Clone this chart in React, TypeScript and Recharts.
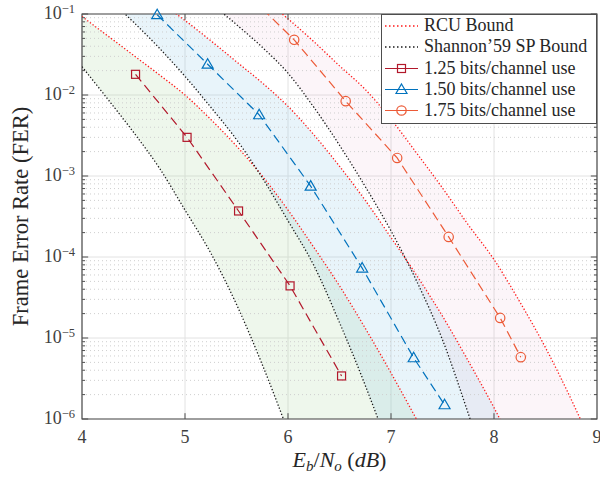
import React from 'react';
import {
  ComposedChart,
  XAxis,
  YAxis,
  Line,
  Area,
  CartesianGrid,
  ReferenceLine,
  ReferenceArea,
  ReferenceDot,
} from 'recharts';

// ---------- data ----------
const ebno = [4.0, 4.25, 4.5, 4.75, 5.0, 5.25, 5.5, 5.75, 6.0, 6.25, 6.5, 6.75, 7.0, 7.25, 7.5, 7.75, 8.0, 8.25, 8.5, 8.75, 9.0];

// Shannon'59 sphere-packing bounds
const sp125 = [2.24e-2, 8.9e-3, 3.47e-3, 1.26e-3, 3.8e-4, 1.12e-4, 2.6e-5, 4.7e-6, 7.1e-7, 1e-7, 1e-8, 1e-9, 1e-10, 1e-11, 1e-12, null, null, null, null, null, null];
const sp150 = [0.35, 0.158, 7.94e-2, 3.8e-2, 1.7e-2, 7.08e-3, 2.82e-3, 9.5e-4, 2.8e-4, 7.9e-5, 1.55e-5, 2.6e-6, 3.5e-7, 3e-8, 2e-9, 1e-10, 5e-12, 1e-13, null, null, null];
const sp175 = [null, null, null, null, 0.35, 0.141, 7.41e-2, 3.89e-2, 1.86e-2, 7.08e-3, 2.4e-3, 7.4e-4, 2.1e-4, 5.0e-5, 9.5e-6, 1.17e-6, 1.26e-7, 1e-8, 5e-10, 1e-11, 1e-13];

// RCU bounds
const rcu125 = [9.3e-2, 5.37e-2, 3.09e-2, 1.78e-2, 1.0e-2, 5.0e-3, 2.34e-3, 1.0e-3, 3.8e-4, 1.32e-4, 4.4e-5, 1.32e-5, 3.7e-6, 9.8e-7, 2.5e-7, null, null, null, null, null, null];
const rcu150 = [0.4, 0.28, 0.2, 0.141, 8.32e-2, 4.68e-2, 2.57e-2, 1.41e-2, 7.24e-3, 3.24e-3, 1.32e-3, 5.0e-4, 1.74e-4, 5.9e-5, 1.86e-5, 5.2e-6, 1.38e-6, 3.2e-7, null, null, null];
const rcu175 = [null, null, null, null, 0.8, 0.48, 0.28, 0.158, 8.71e-2, 4.57e-2, 2.29e-2, 1.17e-2, 5.01e-3, 1.91e-3, 7.1e-4, 2.5e-4, 9.3e-5, 2.8e-5, 7.6e-6, 1.74e-6, 3.5e-7];

// simulated codes
const r125x = [4.52, 5.02, 5.52, 6.02, 6.52];
const r125y = [1.8e-2, 3.0e-3, 3.7e-4, 4.4e-5, 3.4e-6];
const r150x = [4.73, 5.22, 5.72, 6.22, 6.72, 7.22, 7.52];
const r150y = [9.8e-2, 2.4e-2, 5.7e-3, 7.5e-4, 7.3e-5, 5.7e-6, 1.5e-6];
const r175x = [5.56, 6.06, 6.56, 7.06, 7.56, 8.06, 8.26];
const r175y = [0.2, 4.8e-2, 8.4e-3, 1.67e-3, 1.77e-4, 1.77e-5, 5.8e-6];

const xTicks = [4, 5, 6, 7, 8, 9];
const yTicks = [1e-6, 1e-5, 1e-4, 1e-3, 1e-2, 1e-1];
const minorMults = [2, 3, 4, 5, 6, 7, 8, 9];
const legendLabels = ['RCU Bound', 'Shannon\u201959 SP Bound', '1.25 bits/channel use', '1.50 bits/channel use', '1.75 bits/channel use'];

// ---------- styling ----------
const FONT = '"Liberation Serif", "Times New Roman", serif';
const TEXT = '#262626';
const AXIS = '#4d4d4d';
const C125 = '#B2182B';
const C150 = '#0072BD';
const C175 = '#EC5A37';
const RCU = '#ff1a1a';
const SP = '#1a1a1a';
const DOT = '1.3 2';
const DOTW = 1.3;
const DASH = '9 5';

const table = ebno.map((x, i) => ({
  x,
  sp125: sp125[i],
  sp150: sp150[i],
  sp175: sp175[i],
  rcu125: rcu125[i],
  rcu150: rcu150[i],
  rcu175: rcu175[i],
}));
const pts = (xs: number[], ys: number[]) => xs.map((x, i) => ({ x, y: ys[i] }));
const d125 = pts(r125x, r125y);
const d150 = pts(r150x, r150y);
const d175 = pts(r175x, r175y);

const band = (lo: string, hi: string) => (d: any) =>
  d[lo] != null && d[hi] != null ? [d[lo], d[hi]] : null;

const yMinor = yTicks.slice(0, -1).flatMap((d) => minorMults.map((m) => m * d));

// ---------- markers ----------
const Square = ({ cx, cy, color }: any) => (
  <rect x={cx - 4} y={cy - 4} width={8} height={8} fill="none" stroke={color} strokeWidth={1.2} />
);
const Tri = ({ cx, cy, color }: any) => (
  <polygon
    points={`${cx},${cy - 5.5} ${cx + 5.5},${cy + 4} ${cx - 5.5},${cy + 4}`}
    fill="none"
    stroke={color}
    strokeWidth={1.2}
  />
);
const Circ = ({ cx, cy, color }: any) => (
  <circle cx={cx} cy={cy} r={4.7} fill="none" stroke={color} strokeWidth={1.2} />
);

// ---------- ticks & labels ----------
const XTick = (props: any) => {
  const { x, y, payload } = props;
  return (
    <text x={x} y={y + 24} textAnchor="middle" fontFamily={FONT} fontSize={18} fill="#404040">
      {payload.value}
    </text>
  );
};
const YTick = (props: any) => {
  const { x, y, payload } = props;
  const exp = Math.round(Math.log10(payload.value));
  return (
    <text x={x - 7} y={y + 5} textAnchor="end" fontFamily={FONT} fontSize={18} fill="#404040">
      <tspan>10</tspan>
      <tspan dy={-6} fontSize={12.5}>{'\u2212' + Math.abs(exp)}</tspan>
    </text>
  );
};
const YLabel = (props: any) => {
  const vb = props.viewBox || { x: 0, y: 14, width: 82, height: 405 };
  const cy = vb.y + vb.height / 2;
  const cx = 28;
  return (
    <text
      x={cx}
      y={cy}
      transform={`rotate(-90, ${cx}, ${cy})`}
      textAnchor="middle"
      fontFamily={FONT}
      fontSize={22.5}
      fill={TEXT}
    >
      Frame Error Rate (FER)
    </text>
  );
};
const XLabel = (props: any) => {
  const vb = props.viewBox || { x: 82, y: 419, width: 515, height: 62 };
  const cx = vb.x + vb.width / 2;
  return (
    <text x={cx} y={vb.y + 48} textAnchor="middle" fontFamily={FONT} fontSize={22} fill={TEXT}>
      <tspan fontStyle="italic">E</tspan>
      <tspan fontStyle="italic" fontSize={15} dy={4}>b</tspan>
      <tspan dy={-4}>/</tspan>
      <tspan fontStyle="italic">N</tspan>
      <tspan fontStyle="italic" fontSize={15} dy={4}>o</tspan>
      <tspan dy={-4}>{' ('}</tspan>
      <tspan fontStyle="italic">dB</tspan>
      <tspan>)</tspan>
    </text>
  );
};

// ---------- legend ----------
const LegendIcon = ({ i }: { i: number }) => {
  if (i === 0) return <line x1={3} x2={36} y1={11} y2={11} stroke={RCU} strokeWidth={1.5} strokeDasharray="1.5 2.5" />;
  if (i === 1) return <line x1={3} x2={36} y1={11} y2={11} stroke={SP} strokeWidth={1.5} strokeDasharray="1.5 2.5" />;
  const color = i === 2 ? C125 : i === 3 ? C150 : C175;
  return (
    <g>
      <line x1={3} x2={36} y1={10.5} y2={10.5} stroke={color} strokeWidth={1.2} />
      {i === 2 && <Square cx={19.5} cy={10.5} color={color} />}
      {i === 3 && <Tri cx={19.5} cy={10.5} color={color} />}
      {i === 4 && <Circ cx={19.5} cy={10.5} color={color} />}
    </g>
  );
};

const LegendBox = () => (
  <div
    style={{
      position: 'absolute',
      left: 381,
      top: 14,
      width: 216,
      height: 110,
      boxSizing: 'border-box',
      border: `1px solid ${AXIS}`,
      background: '#ffffff',
      fontFamily: FONT,
      fontSize: 18,
      color: TEXT,
    }}
  >
    {legendLabels.map((label, i) => (
      <div
        key={label}
        style={{ position: 'absolute', left: 0, top: 0 + i * 21.3, height: 21, display: 'flex', alignItems: 'center', whiteSpace: 'nowrap' }}
      >
        <svg width={42} height={21} style={{ display: 'block' }}>
          <LegendIcon i={i} />
        </svg>
        <span style={{ lineHeight: '21px' }}>{label}</span>
      </div>
    ))}
  </div>
);

export default function App() {
  return (
    <div style={{ position: 'absolute', left: 0, top: 0, width: 600, height: 481, background: '#fff' }}>
      <ComposedChart width={600} height={481} data={table} margin={{ top: 14, right: 3, bottom: 0, left: 0 }}>
        <CartesianGrid stroke="#e2e2e2" strokeWidth={1} />
        {yMinor.map((v) => (
          <ReferenceLine key={'g' + v} y={v} stroke="#cfcfcf" strokeDasharray="1 3" />
        ))}
        <XAxis
          dataKey="x"
          type="number"
          domain={[4, 9]}
          ticks={xTicks}
          interval={0}
          allowDataOverflow
          height={62}
          tickSize={0}
          tickMargin={0}
          axisLine={false}
          tickLine={false}
          tick={<XTick />}
          label={<XLabel />}
        />
        <YAxis
          type="number"
          scale="log"
          domain={[1e-6, 1e-1]}
          ticks={yTicks}
          interval={0}
          allowDataOverflow
          width={82}
          tickSize={0}
          tickMargin={0}
          axisLine={false}
          tickLine={false}
          tick={<YTick />}
          label={<YLabel />}
        />

        <Area dataKey={band('sp125', 'rcu125')} type="monotone" stroke="none" fill="#a8d8a0" fillOpacity={0.2} isAnimationActive={false} />
        <Area dataKey={band('sp150', 'rcu150')} type="monotone" stroke="none" fill="#8ecae6" fillOpacity={0.2} isAnimationActive={false} />
        <Area dataKey={band('sp175', 'rcu175')} type="monotone" stroke="none" fill="#e8a0c8" fillOpacity={0.11} isAnimationActive={false} />

        <Line dataKey="rcu125" type="monotone" stroke={RCU} strokeWidth={DOTW} strokeDasharray={DOT} dot={false} isAnimationActive={false} />
        <Line dataKey="rcu150" type="monotone" stroke={RCU} strokeWidth={DOTW} strokeDasharray={DOT} dot={false} isAnimationActive={false} />
        <Line dataKey="rcu175" type="monotone" stroke={RCU} strokeWidth={DOTW} strokeDasharray={DOT} dot={false} isAnimationActive={false} />
        <Line dataKey="sp125" type="monotone" stroke={SP} strokeWidth={DOTW} strokeDasharray={DOT} dot={false} isAnimationActive={false} />
        <Line dataKey="sp150" type="monotone" stroke={SP} strokeWidth={DOTW} strokeDasharray={DOT} dot={false} isAnimationActive={false} />
        <Line dataKey="sp175" type="monotone" stroke={SP} strokeWidth={DOTW} strokeDasharray={DOT} dot={false} isAnimationActive={false} />

        <Line data={d125} dataKey="y" type="linear" stroke={C125} strokeWidth={1.2} strokeDasharray={DASH} dot={false} isAnimationActive={false} />
        <Line data={d150} dataKey="y" type="linear" stroke={C150} strokeWidth={1.2} strokeDasharray={DASH} dot={false} isAnimationActive={false} />
        <Line data={d175} dataKey="y" type="linear" stroke={C175} strokeWidth={1.2} strokeDasharray={DASH} dot={false} isAnimationActive={false} />

        {d125.map((p) => (
          <ReferenceDot key={'s' + p.x} x={p.x} y={p.y} r={4} ifOverflow="discard" shape={(pr: any) => <Square cx={pr.cx} cy={pr.cy} color={C125} />} />
        ))}
        {d150.map((p) => (
          <ReferenceDot key={'t' + p.x} x={p.x} y={p.y} r={5} ifOverflow="discard" shape={(pr: any) => <Tri cx={pr.cx} cy={pr.cy} color={C150} />} />
        ))}
        {d175.map((p) => (
          <ReferenceDot key={'c' + p.x} x={p.x} y={p.y} r={5} ifOverflow="discard" shape={(pr: any) => <Circ cx={pr.cx} cy={pr.cy} color={C175} />} />
        ))}

        {yTicks.map((v) => (
          <ReferenceLine key={'yl' + v} segment={[{ x: 4, y: v }, { x: 4.06, y: v }]} stroke={AXIS} />
        ))}
        {yTicks.map((v) => (
          <ReferenceLine key={'yr' + v} segment={[{ x: 8.94, y: v }, { x: 9, y: v }]} stroke={AXIS} />
        ))}
        {yMinor.map((v) => (
          <ReferenceLine key={'ml' + v} segment={[{ x: 4, y: v }, { x: 4.03, y: v }]} stroke={AXIS} />
        ))}
        {yMinor.map((v) => (
          <ReferenceLine key={'mr' + v} segment={[{ x: 8.97, y: v }, { x: 9, y: v }]} stroke={AXIS} />
        ))}
        {xTicks.slice(1, -1).map((v) => (
          <ReferenceLine key={'xb' + v} segment={[{ x: v, y: 1e-6 }, { x: v, y: 1.18e-6 }]} stroke={AXIS} />
        ))}
        {xTicks.slice(1, -1).map((v) => (
          <ReferenceLine key={'xt' + v} segment={[{ x: v, y: 0.1 / 1.18 }, { x: v, y: 0.1 }]} stroke={AXIS} />
        ))}
        <ReferenceArea x1={4} x2={9} y1={1e-6} y2={1e-1} fill="none" stroke={AXIS} strokeWidth={1.2} ifOverflow="visible" />
      </ComposedChart>
      <LegendBox />
    </div>
  );
}
